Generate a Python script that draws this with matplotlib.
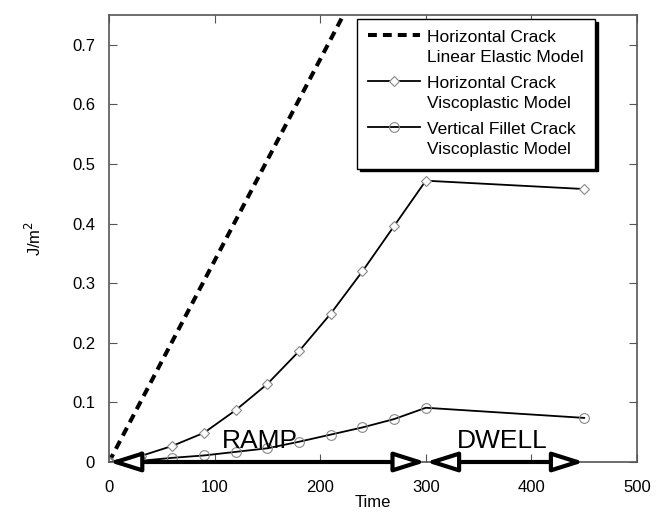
import numpy as np
import matplotlib
matplotlib.use('Agg')
import matplotlib.pyplot as plt
from matplotlib.legend_handler import HandlerLine2D

# datos
t_elastico = [0, 222]
j_elastico = [0, 0.75]

t_visco = [0, 30, 60, 90, 120, 150, 180, 210, 240, 270, 300, 450]
j_horizontal = [0, 0.010, 0.027, 0.049, 0.087, 0.131, 0.186, 0.249, 0.320, 0.396, 0.472, 0.458]
j_vertical = [0, 0.002, 0.007, 0.011, 0.017, 0.023, 0.034, 0.046, 0.058, 0.072, 0.091, 0.074]

fases = ['RAMP', 'DWELL']
fase_limites = [(0, 300), (300, 450)]
fase_texto_x = [143, 372]

etiquetas = ['Horizontal Crack\nLinear Elastic Model',
             'Horizontal Crack\nViscoplastic Model',
             'Vertical Fillet Crack\nViscoplastic Model']


class HandlerArriba(HandlerLine2D):
    # pone el simbolo a la altura de la primera linea del texto
    def create_artists(self, legend, orig_handle, xdescent, ydescent,
                       width, height, fontsize, trans):
        artistas = super().create_artists(legend, orig_handle, xdescent, ydescent,
                                          width, height, fontsize, trans)
        for a in artistas:
            a.set_ydata(np.asarray(a.get_ydata()) + 0.75 * fontsize)
        return artistas


plt.rcParams['font.family'] = ['Liberation Sans', 'DejaVu Sans']

fig = plt.figure(figsize=(6.61, 5.14), dpi=100)
ax = fig.add_axes([109/661, 1 - 462/514, (637-109)/661, (462-15)/514])

ax.plot(t_elastico, j_elastico, 'k--', lw=2.9, label=etiquetas[0], dashes=(2.2, 1.5))
ax.plot(t_visco, j_horizontal, color='black', lw=1.3, marker='D', ms=5,
        mfc='white', mec='#888888', mew=0.8, label=etiquetas[1])
ax.plot(t_visco, j_vertical, color='black', lw=1.3, marker='o', ms=7,
        mfc='none', mec='#888888', mew=0.8, label=etiquetas[2])

# flechas de las fases
for (x0, x1), nombre, xt in zip(fase_limites, fases, fase_texto_x):
    ax.annotate('', xy=(x0, 0), xytext=(x1, 0),
                arrowprops=dict(arrowstyle='<|-|>,head_length=1.9,head_width=0.6',
                                fc='white', ec='black', lw=3, shrinkA=0, shrinkB=0))
    ax.text(xt, 0.036, nombre, fontsize=19, ha='center', va='center')

ax.set_xlim(0, 500)
ax.set_ylim(0, 0.75)
ax.set_xticks([0, 100, 200, 300, 400, 500])
ax.set_yticks([0, 0.1, 0.2, 0.3, 0.4, 0.5, 0.6, 0.7])
ax.set_yticklabels(['0', '0.1', '0.2', '0.3', '0.4', '0.5', '0.6', '0.7'])
ax.tick_params(direction='in', top=True, right=True, labelsize=12, length=6,
               color='#555555')
ax.tick_params(axis='x', pad=13)
ax.tick_params(axis='y', pad=10)
for s in ax.spines.values():
    s.set_color('#555555')
    s.set_linewidth(1.2)

ax.set_xlabel('Time', fontsize=12, labelpad=0)
ax.set_ylabel('J/m$^2$', fontsize=12, labelpad=20)

leg = ax.legend(loc='upper right', bbox_to_anchor=((595-109)/528, (462-19)/447),
                borderaxespad=0, fontsize=12.5, handlelength=3.0, fancybox=False,
                edgecolor='black', shadow={'color': 'black', 'alpha': 1},
                framealpha=1, labelspacing=0.65, borderpad=0.65, handletextpad=0.4,
                handler_map={plt.Line2D: HandlerArriba()})
leg.get_frame().set_linewidth(1.0)
for t in leg.get_texts():
    t.set_linespacing(1.4)

fig.savefig('out.png', dpi=100)
